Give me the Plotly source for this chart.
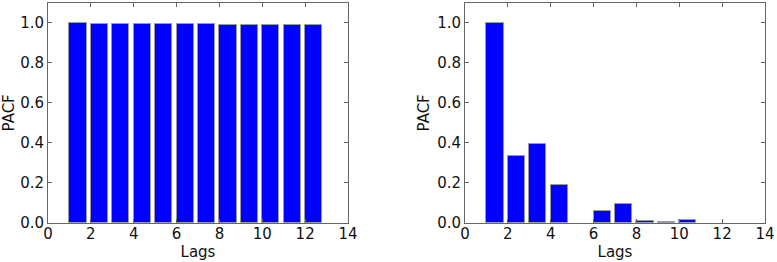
import plotly.graph_objects as go

lags = list(range(1, 13))
pacf_left = [0.998, 0.996, 0.995, 0.995, 0.993, 0.993, 0.993, 0.992, 0.991, 0.990, 0.990, 0.990]
pacf_right = [1.0, 0.335, 0.395, 0.187, 0.0, 0.06, 0.095, 0.007, 0.006, 0.013, 0.0, 0.0]
x_ticks = [0, 2, 4, 6, 8, 10, 12, 14]
y_ticks = [0.0, 0.2, 0.4, 0.6, 0.8, 1.0]

W, H = 777, 262
FONT = "DejaVu Sans"
FS = 15


def edge_colors(vals):
    return ["#9a9a9a" if v > 0 else "rgba(0,0,0,0)" for v in vals]


fig = go.Figure()
for vals, xa, ya in [(pacf_left, "x", "y"), (pacf_right, "x2", "y2")]:
    fig.add_trace(go.Bar(x=lags, y=vals, xaxis=xa, yaxis=ya, width=0.8, offset=0,
                         marker=dict(color="#0000ff", line=dict(color=edge_colors(vals), width=1)),
                         showlegend=False, hoverinfo="x+y"))

ydom = [(H - 222.7) / H, (H - 3) / H]
common_x = dict(range=[0, 14], tickvals=x_ticks, ticktext=[str(t) for t in x_ticks],
                showline=True, linecolor="#666666", linewidth=1, mirror="ticks",
                ticks="inside", ticklen=4, tickcolor="#666666", showgrid=False, zeroline=False,
                automargin=False, ticklabelstandoff=-3,
                tickfont=dict(family=FONT, size=FS, color="#111111"),
                title=dict(text="Lags", font=dict(family=FONT, size=FS, color="#111111"), standoff=1))
common_y = dict(range=[0, 1.1], tickvals=y_ticks, ticktext=[f"{v:.1f}" for v in y_ticks],
                showline=True, linecolor="#666666", linewidth=1, mirror="ticks",
                ticks="inside", ticklen=4, tickcolor="#666666", showgrid=False, zeroline=False,
                automargin=False,
                tickfont=dict(family=FONT, size=FS, color="#111111"),
                title=dict(text="PACF", font=dict(family=FONT, size=FS, color="#111111"), standoff=3),
                domain=ydom)

fig.update_layout(
    width=W, height=H, margin=dict(l=0, r=0, t=0, b=0),
    paper_bgcolor="white", plot_bgcolor="white", bargap=0,
    xaxis=dict(domain=[48 / W, 348 / W], anchor="y", **common_x),
    yaxis=dict(anchor="x", **common_y),
    xaxis2=dict(domain=[465 / W, 765 / W], anchor="y2", **common_x),
    yaxis2=dict(anchor="x2", **common_y),
)

fig.write_html("out.html", config={"displayModeBar": False},
               post_script="document.body.style.margin='0';document.body.style.overflow='hidden';")
